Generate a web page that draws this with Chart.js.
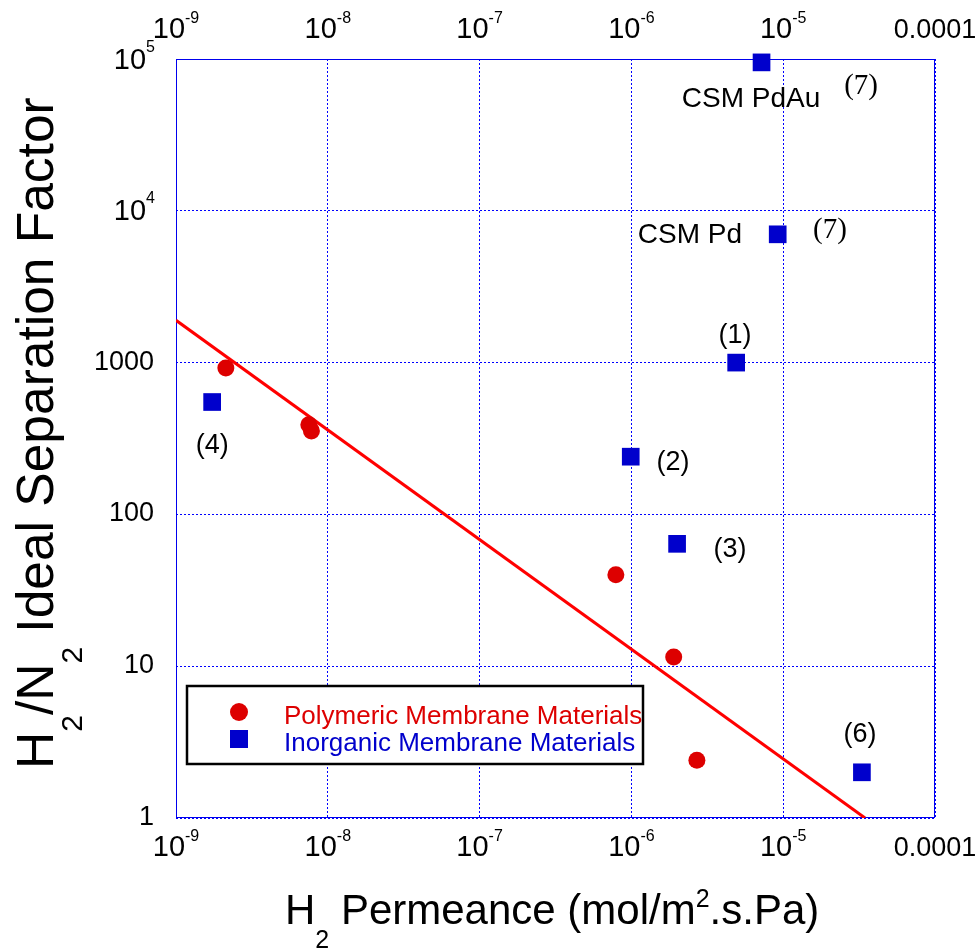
<!DOCTYPE html>
<html><head><meta charset="utf-8">
<script src="https://cdn.jsdelivr.net/npm/chart.js@4/dist/chart.umd.min.js"></script>
<style>html,body{margin:0;padding:0;background:#fff;}canvas{display:block;}</style>
</head><body>
<canvas id="c" width="977" height="948"></canvas>
<script>
// ---- data ----
const polymericX = [2.13e-9, 7.5e-9, 7.8e-9, 7.9e-7, 1.9e-6, 2.7e-6];
const polymericY = [920, 390, 355, 40, 11.5, 2.4];
const inorganicX = [7.2e-6, 9.2e-6, 4.9e-6, 9.9e-7, 2.0e-6, 1.73e-9, 3.3e-5];
const inorganicY = [95000, 7000, 1000, 240, 64, 550, 2.0];
const trendX = [1e-9, 3.46e-5];
const trendY = [1900, 1];
const xTickValues = [1e-9, 1e-8, 1e-7, 1e-6, 1e-5, 1e-4];
const xTickBase = ['10', '10', '10', '10', '10', '0.0001'];
const xTickExp = ['-9', '-8', '-7', '-6', '-5', ''];
const yTickValues = [1, 10, 100, 1000, 1e4, 1e5];
const yTickBase = ['1', '10', '100', '1000', '10', '10'];
const yTickExp = ['', '', '', '', '4', '5'];
const seriesNames = ['Polymeric Membrane Materials', 'Inorganic Membrane Materials'];
const noteText = ['CSM PdAu', '(7)', 'CSM Pd', '(7)', '(1)', '(2)', '(3)', '(4)', '(6)'];
const noteX = [6.14e-6, 3.26e-5, 2.43e-6, 2.03e-5, 4.82e-6, 1.88e-6, 4.47e-6, 1.73e-9, 3.21e-5];
const noteY = [54500, 66400, 6930, 7480, 1497, 221, 58.3, 286, 3.52];
const noteSerif = [false, true, false, true, false, false, false, false, false];

const RED = '#dd0000', BLUE = '#0000cc', SANS = '"Liberation Sans", Arial, Helvetica, sans-serif', SERIF = '"Liberation Serif", "Times New Roman", serif';

function drawSup(ctx, base, sup, x, baseline, align, bf, sf, raise) {
  ctx.font = bf; const wb = ctx.measureText(base).width;
  ctx.font = sf; const ws = sup ? ctx.measureText(sup).width : 0;
  const w = wb + ws;
  const x0 = align === 'center' ? x - w / 2 : (align === 'right' ? x - w : x);
  ctx.textAlign = 'left'; ctx.textBaseline = 'alphabetic';
  ctx.font = bf; ctx.fillText(base, x0, baseline);
  if (sup) { ctx.font = sf; ctx.fillText(sup, x0 + wb, baseline - raise); }
}
function drawPieces(ctx, pieces, x, y) {
  let cx = x;
  ctx.textAlign = 'left'; ctx.textBaseline = 'alphabetic';
  for (const p of pieces) {
    ctx.font = p.f; ctx.fillText(p.t, cx, y + p.dy); cx += ctx.measureText(p.t).width;
  }
}

const framePlugin = {
  id: 'frame',
  beforeDatasetsDraw(chart) {
    const { ctx, chartArea: a } = chart;
    ctx.save(); ctx.strokeStyle = '#0000ee'; ctx.lineWidth = 1;
    ctx.strokeRect(a.left + 0.5, a.top + 0.5, a.right - a.left - 1, a.bottom - a.top - 1);
    ctx.restore();
  },
  afterDraw(chart) {
    const { ctx, chartArea: a, scales } = chart;
    const xs = scales.x, ys = scales.y;
    ctx.save(); ctx.fillStyle = '#000';
    // x tick labels bottom and top
    xTickValues.forEach((v, i) => {
      const px = xs.getPixelForValue(v);
      const bf = xTickExp[i] ? '29px ' + SANS : '27px ' + SANS;
      drawSup(ctx, xTickBase[i], xTickExp[i], px, a.bottom + 38, 'center', bf, '16px ' + SANS, 15);
      drawSup(ctx, xTickBase[i], xTickExp[i], px, a.top - 21, 'center', bf, '16px ' + SANS, 15);
    });
    // y tick labels
    yTickValues.forEach((v, i) => {
      const py = ys.getPixelForValue(v);
      if (yTickExp[i]) drawSup(ctx, yTickBase[i], yTickExp[i], a.left - 21, py + 9.5, 'right', '29px ' + SANS, '16px ' + SANS, 17);
      else drawSup(ctx, yTickBase[i], '', a.left - 22, py + 7, 'right', '27px ' + SANS, '', 0);
    });
    // x title
    const bigX = '42px ' + SANS, smallX = '25px ' + SANS;
    drawPieces(ctx, [
      { t: 'H', f: bigX, dy: 0 }, { t: '2', f: smallX, dy: 24 },
      { t: ' Permeance (mol/m', f: bigX, dy: 0 }, { t: '2', f: smallX, dy: -17 },
      { t: '.s.Pa)', f: bigX, dy: 0 }], 285, 924);
    // y title
    ctx.save(); ctx.translate(53, 769); ctx.rotate(-Math.PI / 2);
    const bigY = '51.5px ' + SANS, smallY = '30px ' + SANS;
    drawPieces(ctx, [
      { t: 'H', f: bigY, dy: 0 }, { t: '2', f: smallY, dy: 29 },
      { t: '/N', f: bigY, dy: 0 }, { t: '2', f: smallY, dy: 29 },
      { t: ' Ideal Separation Factor', f: bigY, dy: 0 }], 0, 0);
    ctx.restore();
    // annotations
    ctx.textAlign = 'center'; ctx.textBaseline = 'middle';
    noteText.forEach((t, i) => {
      const px = xs.getPixelForValue(noteX[i]), py = ys.getPixelForValue(noteY[i]);
      if (noteSerif[i]) ctx.font = '29px ' + SERIF;
      else ctx.font = (t.startsWith('(') ? '27px ' : '28px ') + SANS;
      ctx.fillText(t, px, py);
    });
    // legend
    ctx.fillStyle = '#fff'; ctx.fillRect(187, 686, 456, 78);
    ctx.strokeStyle = '#000'; ctx.lineWidth = 2.5; ctx.strokeRect(187, 686, 456, 78);
    chart.data.datasets.filter(d => d.inLegend).forEach((d, i) => {
      const cy = 712 + i * 27;
      ctx.fillStyle = d.backgroundColor;
      if (d.pointStyle === 'circle') { ctx.beginPath(); ctx.arc(239, cy, 9, 0, Math.PI * 2); ctx.fill(); }
      else ctx.fillRect(230, cy - 9, 18, 18);
      ctx.font = '26px ' + SANS; ctx.textAlign = 'left'; ctx.textBaseline = 'alphabetic';
      ctx.fillText(d.label, 284, cy + 12);
    });
    ctx.restore();
  }
};

const axisCommon = (vals) => ({
  type: 'logarithmic', display: true,
  afterBuildTicks: s => { s.ticks = vals.map(v => ({ value: v })); },
  ticks: { display: false },
  grid: { color: '#0000ff', lineWidth: 1, drawTicks: false },
  border: { display: false, dash: [2, 2] }
});

new Chart(document.getElementById('c'), {
  type: 'scatter',
  data: {
    datasets: [
      { type: 'line', label: 'trend', data: trendX.map((x, i) => ({ x, y: trendY[i] })),
        borderColor: '#ff0000', borderWidth: 3, pointRadius: 0, fill: false, order: 3 },
      { label: seriesNames[0], inLegend: true, data: polymericX.map((x, i) => ({ x, y: polymericY[i] })),
        pointStyle: 'circle', pointRadius: 8.5, backgroundColor: RED, borderWidth: 0, clip: false, order: 2 },
      { label: seriesNames[1], inLegend: true, data: inorganicX.map((x, i) => ({ x, y: inorganicY[i] })),
        pointStyle: 'rect', pointRadius: 12.5, backgroundColor: BLUE, borderWidth: 0, clip: false, order: 1 }
    ]
  },
  options: {
    responsive: false, animation: false,
    layout: { padding: { left: 176, right: 42, top: 59, bottom: 130 } },
    plugins: { legend: { display: false }, tooltip: { enabled: false } },
    scales: {
      x: Object.assign(axisCommon(xTickValues), { min: 1e-9, max: 1e-4, position: 'bottom' }),
      y: Object.assign(axisCommon(yTickValues), { min: 1, max: 1e5 })
    }
  },
  plugins: [framePlugin]
});
</script>
</body></html>
